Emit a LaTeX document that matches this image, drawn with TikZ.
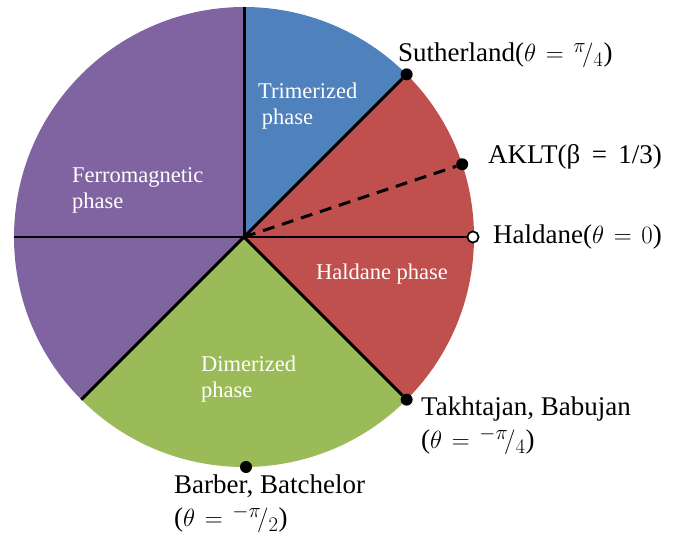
\documentclass[tikz,border=0pt]{standalone}
\usepackage{fontspec}
\setmainfont{Liberation Serif}
\definecolor{cpurple}{HTML}{8064A2}
\definecolor{cblue}{HTML}{4F81BD}
\definecolor{cred}{HTML}{C0504D}
\definecolor{cgreen}{HTML}{9BBB59}
\tikzset{
  phaselabel/.style={text=white, font=\fontsize{22.5}{27}\selectfont, align=left, anchor=west, inner sep=0pt},
  pointlabel/.style={text=black, font=\fontsize{27}{33}\selectfont, align=left, anchor=west, inner sep=0pt},
  dot/.style={circle, fill=black, minimum size=12pt, inner sep=0pt},
  opendot/.style={circle, draw=black, fill=white, line width=1.6pt, minimum size=11pt, inner sep=0pt},
  thickline/.style={line width=3pt, black},
  thinline/.style={line width=1.8pt, black}
}
\newcommand{\eqsp}{\hspace{0.42em}}
\newcommand{\mymath}[1]{{\fontsize{31}{31}\selectfont$#1$}}
\newcommand{\meq}{\mskip 7mu{=}\mskip 7mu}
\begin{document}
\begin{tikzpicture}[x=1pt,y=-1pt]
\useasboundingbox (0,0) rectangle (674,545);
\coordinate (O) at (244,237);
% sectors (visual angle phi -> tikz angle -phi)
\fill[cblue] (O) -- ++(-90:230) arc[start angle=-90, end angle=-45, radius=230] -- cycle;
\fill[cred] (O) -- ++(-45:230) arc[start angle=-45, end angle=45, radius=230] -- cycle;
\fill[cgreen] (O) -- ++(45:230) arc[start angle=45, end angle=135, radius=230] -- cycle;
\fill[cpurple] (O) -- ++(135:230) arc[start angle=135, end angle=270, radius=230] -- cycle;
% boundary points
\path (O) ++(-90:230) coordinate (top);
\path (O) ++(180:230) coordinate (left);
\path (O) ++(135:230) coordinate (bl);
\path (O) ++(-45:230) node[dot] (suth) {};
\path (O) ++(45:230) node[dot] (takh) {};
\path (O) ++(-18.43:230) node[dot] (aklt) {};
\path (O) ++(0:229) node[opendot] (hald) {};
\path (O) ++(90:230) ++(2,0) node[dot] (barb) {};
% lines
\draw[thickline] (O) -- (top);
\draw[thinline] (left) -- (hald);
\draw[thickline] (O) -- (suth);
\draw[thickline] (O) -- (takh);
\draw[thickline] (O) -- (bl);
\draw[thickline, dash pattern=on 12pt off 8pt] (O) -- (aklt);
\path (O) ++(0:229) node[opendot] {};
% phase labels
\node[phaselabel] (tri) at (258,106) {Trimerized\\[-1pt]\,phase};
\node[phaselabel] (fer) at (72,190) {Ferromagnetic\\[-1pt]phase};
\node[phaselabel, anchor=center] (hph) at (382,274) {Haldane phase};
\node[phaselabel] (dim) at (201,379) {Dimerized\\[-1pt]phase};
% point labels
\node[pointlabel] (lsuth) at (398,55) {Sutherland(\mymath{\theta \meq {}^{\pi}\!/_{4}})};
\node[pointlabel] (laklt) at (488,157) {AKLT(β\eqsp=\eqsp1/3)};
\node[pointlabel] (lhald) at (493,237) {Haldane(\mymath{\theta \meq 0})};
\node[pointlabel] (ltakh) at (421,426) {Takhtajan, Babujan\\(\mymath{\theta \meq {}^{-\pi}\!/_{4}})};
\node[pointlabel] (lbarb) at (174,504) {Barber, Batchelor\\(\mymath{\theta \meq {}^{-\pi}\!/_{2}})};
\end{tikzpicture}
\end{document}
